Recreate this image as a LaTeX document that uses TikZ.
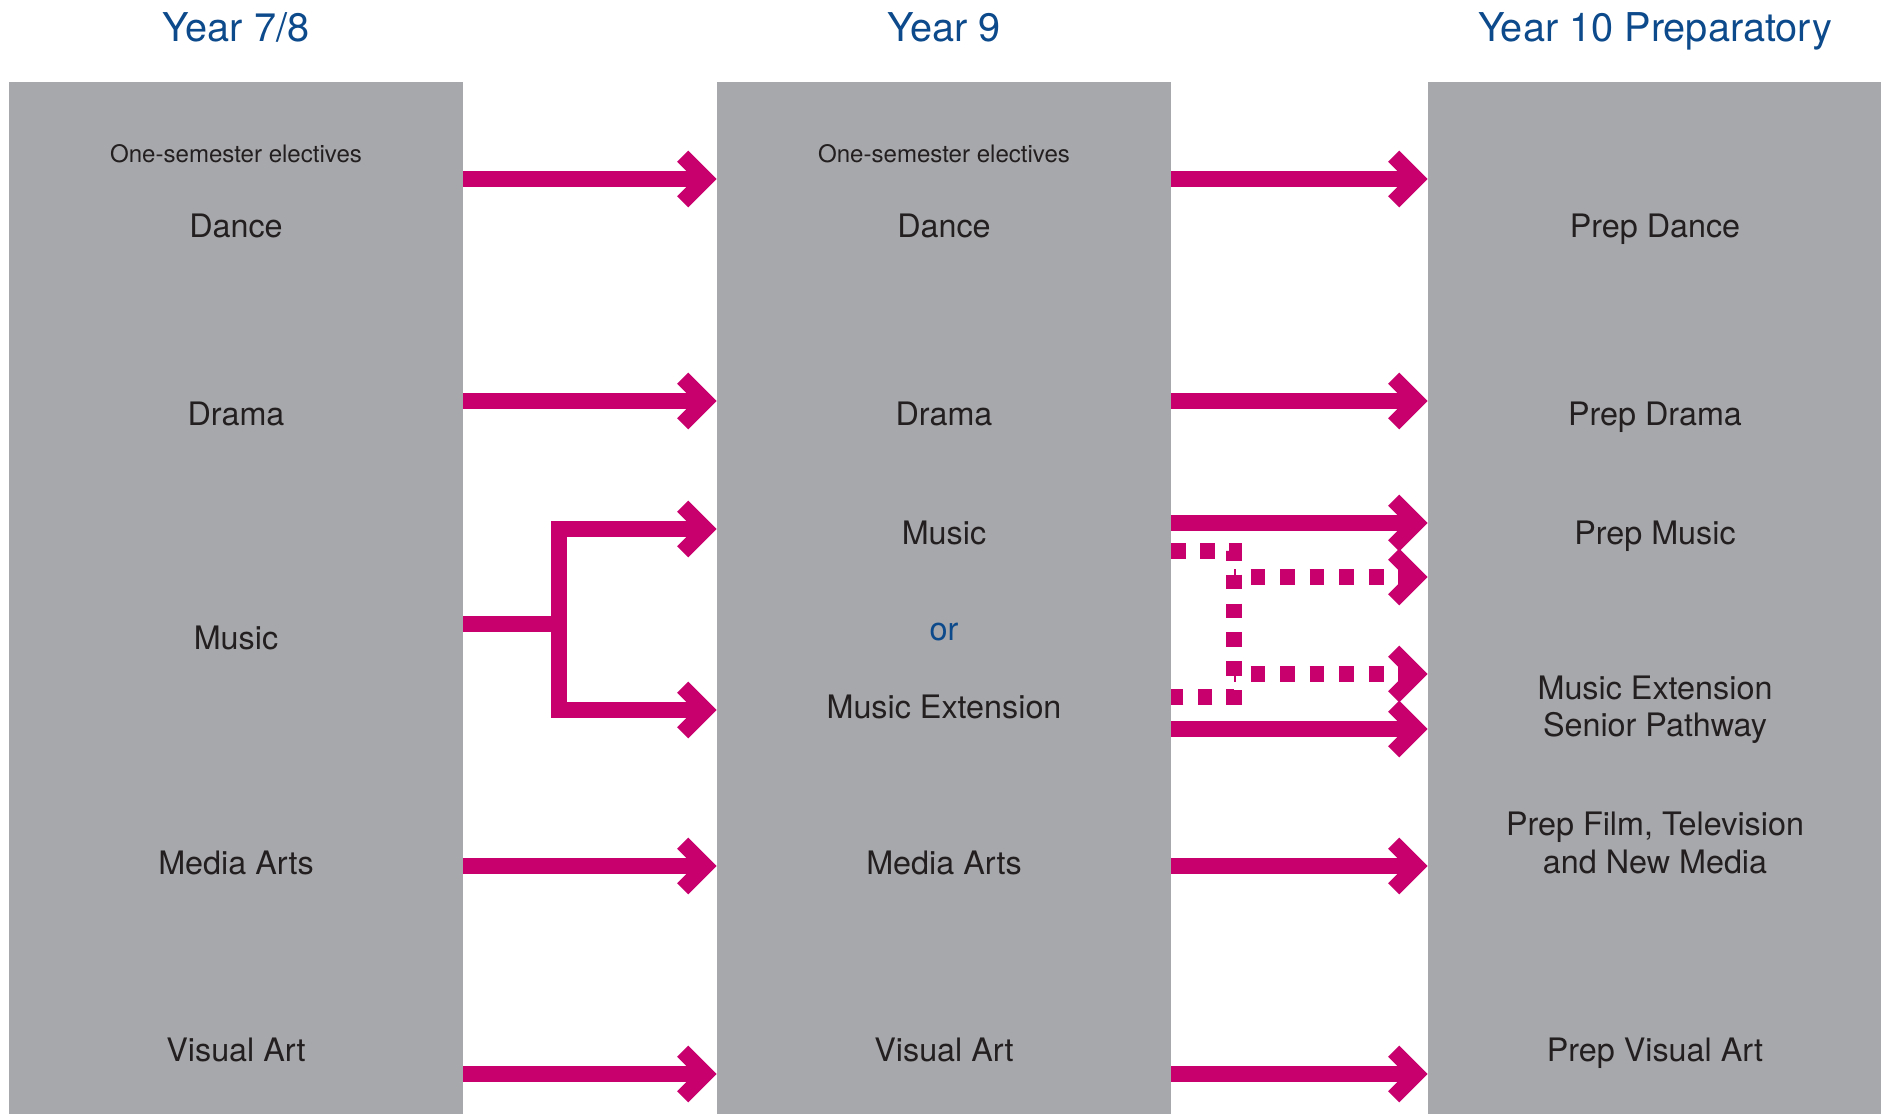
\documentclass[tikz,border=0pt]{standalone}
\usepackage{fontspec}
\setmainfont{TeX Gyre Heros}
\usetikzlibrary{arrows.meta}
\definecolor{colgray}{RGB}{167,168,171}
\definecolor{headblue}{RGB}{12,74,140}
\definecolor{textdark}{RGB}{35,31,32}
\definecolor{flowpink}{RGB}{200,0,110}

\begin{document}
\begin{tikzpicture}[x=0.02cm, y=0.02cm]
					\tikzstyle{every node}+=[inner sep=0pt]
					\tikzstyle{yearcol}=[fill=colgray, minimum width=9.08cm, minimum height=20.64cm]
					\tikzstyle{heading}=[text=headblue, anchor=base, font=\fontsize{22.6}{27}\selectfont]
					\tikzstyle{subject}=[text=textdark, anchor=base, align=center, font=\fontsize{18.4}{21.5}\selectfont]
					\tikzstyle{note}=[text=textdark, anchor=base, font=\fontsize{13.7}{16}\selectfont]
					\tikzstyle{flowline}=[draw=flowpink, line width=9pt]
					\tikzstyle{flow}=[flowline, -{Straight Barb[length=13pt,width=26pt]}]
					\tikzstyle{dotline}=[flowline, dash pattern=on 8.3pt off 8.1pt]
					\tikzstyle{dotflow}=[flow, dash pattern=on 8.5pt off 8.3pt, dash phase=7.4pt]
					\useasboundingbox (0,0) rectangle (1881,-1114);
					\node [yearcol] (col78) at (236,-598) {};
					\node [yearcol] (col9) at (944,-598) {};
					\node [yearcol] (col10) at (1655,-598) {};
					\node [heading] (h78) at (236,-42) {Year 7/8};
					\node [heading] (h9) at (944,-42) {Year 9};
					\node [heading] (h10) at (1655,-42) {Year 10 Preparatory};
					\node [note] (sem78) at (236,-163) {One-semester electives};
					\node [subject] (dance78) at (236,-238) {Dance};
					\node [subject] (drama78) at (236,-425.5) {Drama};
					\node [subject] (music78) at (236,-649.5) {Music};
					\node [subject] (media78) at (236,-874.5) {Media Arts};
					\node [subject] (visual78) at (236,-1061.5) {Visual Art};
					\node [note] (sem9) at (944,-163) {One-semester electives};
					\node [subject] (dance9) at (944,-238) {Dance};
					\node [subject] (drama9) at (944,-425.5) {Drama};
					\node [subject] (music9) at (944,-544.5) {Music};
					\node [subject, text=headblue] (or9) at (944,-641) {or};
					\node [subject] (musicext9) at (944,-718.5) {Music Extension};
					\node [subject] (media9) at (944,-874.5) {Media Arts};
					\node [subject] (visual9) at (944,-1061.5) {Visual Art};
					\node [subject] (dance10) at (1655,-238) {Prep Dance};
					\node [subject] (drama10) at (1655,-425.5) {Prep Drama};
					\node [subject] (music10) at (1655,-544.5) {Prep Music};
					\node [subject] (musicext10) at (1655,-737) {Music Extension\\Senior Pathway};
					\node [subject] (media10) at (1655,-873) {Prep Film, Television\\and New Media};
					\node [subject] (visual10) at (1655,-1061.5) {Prep Visual Art};
					% arrow rows
					\coordinate (r1) at (0,-179);
					\coordinate (r2) at (0,-401);
					\coordinate (r5) at (0,-866);
					\coordinate (r6) at (0,-1074);
					\coordinate (mfork) at (559,-624);
					\coordinate (mup) at (0,-529);
					\coordinate (mdown) at (0,-710);
					\coordinate (smusic) at (0,-523);
					\coordinate (sext) at (0,-729);
					\coordinate (dfork) at (1234,0);
					\coordinate (dA) at (0,-551);
					\coordinate (dB) at (0,-577);
					\coordinate (dC) at (0,-674);
					\coordinate (dD) at (0,-697);
					\draw [flow] (col78.east |- r1) -- (col9.west |- r1);
					\draw [flow] (col78.east |- r2) -- (col9.west |- r2);
					\draw [flowline] (col78.east |- mfork) -- (mfork);
					\draw [flow] (mfork) |- (col9.west |- mup);
					\draw [flow] (mfork) |- (col9.west |- mdown);
					\draw [flow] (col78.east |- r5) -- (col9.west |- r5);
					\draw [flow] (col78.east |- r6) -- (col9.west |- r6);
					\draw [flow] (col9.east |- r1) -- (col10.west |- r1);
					\draw [flow] (col9.east |- r2) -- (col10.west |- r2);
					\draw [flow] (col9.east |- smusic) -- (col10.west |- smusic);
					% dotted crossover
					\draw [dotline] (col9.east |- dA) -| (dfork |- dD) -- (col9.east |- dD);
					\draw [dotflow] (dfork |- dB) -- (col10.west |- dB);
					\draw [dotflow] (dfork |- dC) -- (col10.west |- dC);
					\draw [flow] (col9.east |- sext) -- (col10.west |- sext);
					\draw [flow] (col9.east |- r5) -- (col10.west |- r5);
					\draw [flow] (col9.east |- r6) -- (col10.west |- r6);
				\end{tikzpicture}
\end{document}
